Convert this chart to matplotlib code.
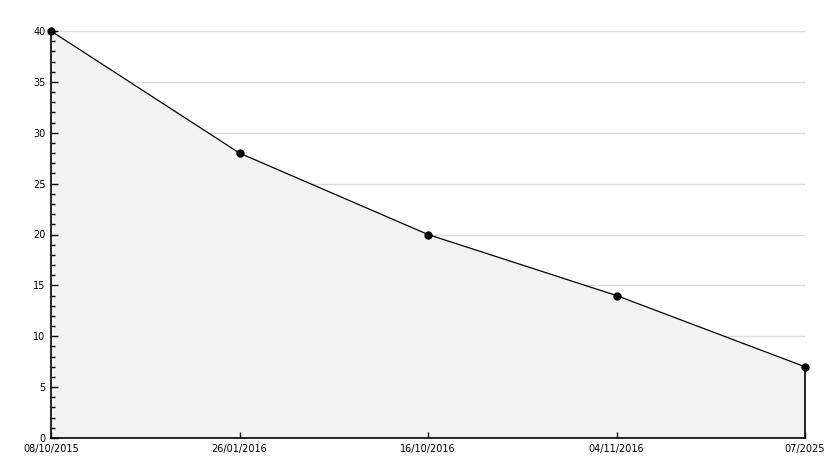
import numpy as np
import matplotlib.pyplot as plt
from matplotlib.ticker import MultipleLocator

DATES = ["08/10/2015", "26/01/2016", "16/10/2016", "04/11/2016", "07/2025"]
VALUES = [40, 28, 20, 14, 7]
Y_GRID = [5, 10, 15, 20, 25, 30, 35, 40]

FILL_COLOR = "#f2f2f2"
GRID_COLOR = "#dddddd"

fig = plt.figure(figsize=(8.34, 4.68), dpi=100)
fig.patch.set_facecolor("white")
ax = fig.add_axes([51 / 834, 30 / 468, 754 / 834, 407 / 468])

x = np.arange(len(DATES))

# grid goes under the fill, ticks stay on top
for yv in Y_GRID:
    ax.axhline(yv, color=GRID_COLOR, linewidth=1, zorder=0.5)

ax.fill_between(x, VALUES, 0, color=FILL_COLOR, linewidth=0, zorder=1)
ax.plot(x, VALUES, color="black", linewidth=0.9, zorder=3, clip_on=False)
ax.plot(x, VALUES, linestyle="none", marker="o", markersize=5,
        color="black", zorder=6, clip_on=False)
ax.vlines(x[-1], 0, VALUES[-1], color="black", linewidth=1.2, zorder=3,
          clip_on=False)

ax.set_xlim(x[0], x[-1])
ax.set_ylim(0, 40)
ax.set_xticks(x)
ax.set_xticklabels(DATES)
ax.yaxis.set_major_locator(MultipleLocator(5))
ax.yaxis.set_minor_locator(MultipleLocator(1))

for side in ["top", "right"]:
    ax.spines[side].set_visible(False)
for side in ["left", "bottom"]:
    ax.spines[side].set_linewidth(1.2)
    ax.spines[side].set_zorder(5)

ax.tick_params(axis="both", which="major", direction="in", length=5,
               width=1, labelsize=7, colors="black", pad=4)
ax.tick_params(axis="y", which="minor", direction="in", length=3, width=1)
ax.tick_params(axis="x", which="major", length=4, pad=4)

fig.savefig("out.png", dpi=100, facecolor="white")
plt.close(fig)
